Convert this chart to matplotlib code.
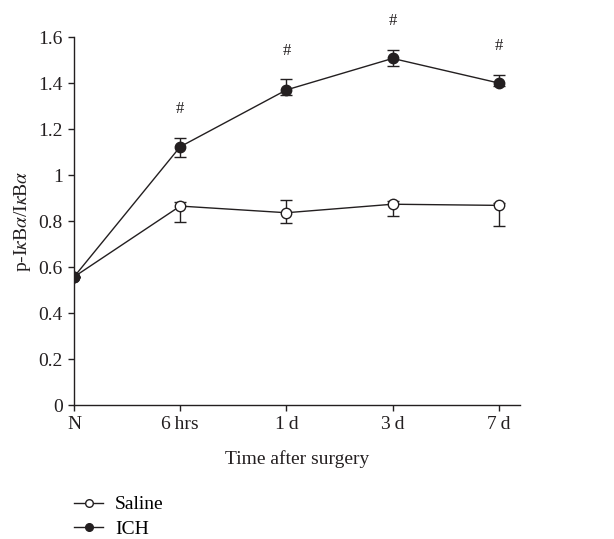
import numpy as np
import matplotlib
matplotlib.use("Agg")
import matplotlib.pyplot as plt
from matplotlib.lines import Line2D

plt.rcParams['font.family'] = ['Liberation Serif', 'DejaVu Serif']
plt.rcParams['mathtext.fontset'] = 'stix'

#------------------------------------------------------------------
# Data
time_labels = ['N', '6\u2009hrs', '1\u2009d', '3\u2009d', '7\u2009d']
saline = [0.557, 0.865, 0.836, 0.873, 0.868]
saline_err_lo = [0.0, 0.068, 0.043, 0.051, 0.090]
saline_err_hi = [0.0, 0.019, 0.054, 0.012, 0.010]
ich = [0.557, 1.123, 1.370, 1.507, 1.400]
ich_err_lo = [0.0, 0.046, 0.021, 0.033, 0.015]
ich_err_hi = [0.0, 0.037, 0.046, 0.036, 0.035]
sig_marks = ['', '#', '#', '#', '#']

x = np.arange(len(time_labels))
fs = 14

fig = plt.figure(figsize=(6.14, 5.39), dpi=100)
ax = fig.add_axes([0.1205, 0.2486, 0.7265, 0.6827])

ax.errorbar(x, saline, yerr=[saline_err_lo, saline_err_hi], color='#231f20',
            marker='o', ms=7.5, mfc='white', mec='#231f20', mew=1.0, lw=1.0,
            capsize=4, elinewidth=1.0, capthick=1.0, zorder=3)
ax.errorbar(x, ich, yerr=[ich_err_lo, ich_err_hi], color='#231f20',
            marker='o', ms=7.5, mfc='#231f20', mec='#231f20', mew=1.0, lw=1.0,
            capsize=4, elinewidth=1.0, capthick=1.0, zorder=4)

# significance marks above ICH error bars
for xi, yi, eh, m in zip(x, ich, ich_err_hi, sig_marks):
    if m:
        ax.annotate(m, (xi, yi + eh), xytext=(0, 15), textcoords='offset points',
                    ha='center', va='bottom', fontsize=12, color='#231f20',
                    annotation_clip=False)

ax.set_xlim(0, 4.2)
ax.set_ylim(0, 1.6)
ax.set_xticks(x)
ax.set_xticklabels(time_labels)
ax.set_yticks([0, 0.2, 0.4, 0.6, 0.8, 1.0, 1.2, 1.4, 1.6])
ax.set_yticklabels(['0', '0.2', '0.4', '0.6', '0.8', '1', '1.2', '1.4', '1.6'])

for s in ['top', 'right']:
    ax.spines[s].set_visible(False)
for s in ['left', 'bottom']:
    ax.spines[s].set_color('#231f20')
    ax.spines[s].set_linewidth(1.0)
ax.tick_params(direction='out', length=4, width=1.0, colors='#231f20',
               labelsize=fs, pad=4)

ax.set_xlabel('Time after surgery', fontsize=fs, color='#231f20', labelpad=12)
ax.set_ylabel(r'p-I$\kappa$B$\alpha$/I$\kappa$B$\alpha$', fontsize=fs,
              color='#231f20', labelpad=4)

handles = [Line2D([], [], color='#231f20', marker='o', ms=5.5, mfc='white', lw=1.0),
           Line2D([], [], color='#231f20', marker='o', ms=5.5, mfc='#231f20', lw=1.0)]
fig.legend(handles, ['Saline', 'ICH'], loc='upper left',
           bbox_to_anchor=(0.1205, 0.080), frameon=False, fontsize=fs,
           handlelength=1.5, handletextpad=0.6, labelspacing=0.35,
           borderaxespad=0, borderpad=0)

fig.savefig('out.png', dpi=100)
